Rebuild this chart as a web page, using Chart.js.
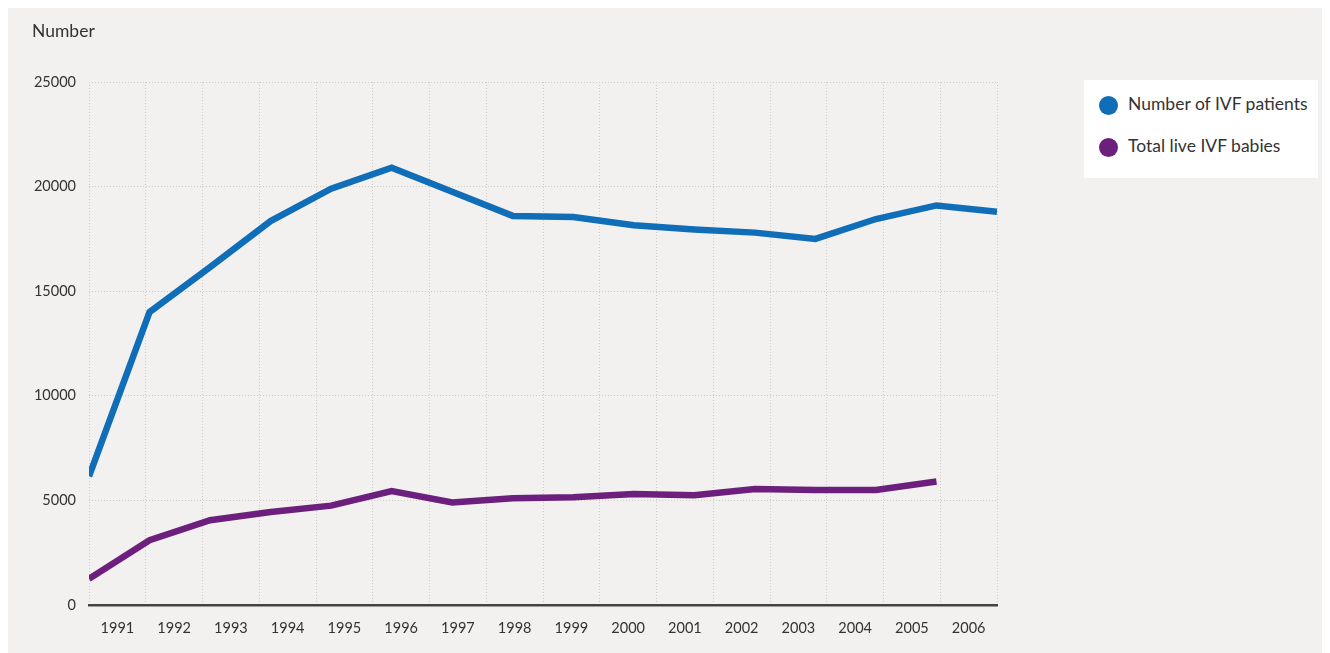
<!DOCTYPE html>
<html>
<head>
<meta charset="utf-8">
<script src="https://cdn.jsdelivr.net/npm/chart.js@4/dist/chart.umd.min.js"></script>
<style>
  html, body { margin: 0; padding: 0; background: #ffffff; }
  #wrap { position: relative; width: 1330px; height: 653px; overflow: hidden; }
  #bg { position: absolute; left: 8px; top: 8px; width: 1314px; height: 645px; background: #f2f1ef; }
  #c { position: absolute; left: 0; top: 0; }
  #ytitle { position: absolute; left: 32px; top: 20px; font-family: Lato, "Open Sans", sans-serif; font-size: 17.5px; color: #333; }
  #legend { position: absolute; left: 1084px; top: 80px; width: 234px; height: 98px; background: #ffffff;
            font-family: Lato, "Open Sans", sans-serif; font-size: 17.5px; color: #333; }
  .item { position: absolute; left: 15px; height: 20px; line-height: 20px; white-space: nowrap; }
  .dot { display: inline-block; width: 19px; height: 19px; border-radius: 50%; vertical-align: middle; margin-right: 10px; }
</style>
</head>
<body>
<div id="wrap">
  <div id="bg"></div>
  <canvas id="c" width="1330" height="653"></canvas>
  <div id="ytitle">Number</div>
  <div id="legend"></div>
</div>
<script>
const years = ['1991','1992','1993','1994','1995','1996','1997','1998','1999','2000','2001','2002','2003','2004','2005','2006'];
const ivfPatients = [6150, 14000, 16150, 18350, 19900, 20900, 19750, 18600, 18550, 18150, 17950, 17800, 17500, 18450, 19100, 18800];
const liveBabies = [1250, 3100, 4050, 4450, 4750, 5450, 4900, 5100, 5150, 5300, 5250, 5550, 5500, 5500, 5900, null];
const seriesNames = ['Number of IVF patients', 'Total live IVF babies'];
const seriesColors = ['#106db8', '#6c1f7d'];
const yTicks = [0, 5000, 10000, 15000, 20000, 25000];

const toPoints = arr => arr.map((v, i) => ({ x: i, y: v }));

const legend = document.getElementById('legend');
seriesNames.forEach((n, i) => {
  const d = document.createElement('div');
  d.className = 'item';
  d.style.top = (14 + i * 42) + 'px';
  d.innerHTML = '<span class="dot" style="background:' + seriesColors[i] + '"></span>' + n;
  legend.appendChild(d);
});

const gridColor = '#cfcbc5';
const tickFont = { family: 'Lato, "Open Sans", sans-serif', size: 14.5 };
new Chart(document.getElementById('c'), {
  type: 'line',
  data: {
    labels: years,
    datasets: [
      { label: seriesNames[0], data: toPoints(ivfPatients), xAxisID: 'x2', yAxisID: 'y',
        borderColor: seriesColors[0], backgroundColor: seriesColors[0], borderWidth: 6.5,
        pointRadius: 0, tension: 0, fill: false },
      { label: seriesNames[1], data: toPoints(liveBabies), xAxisID: 'x2', yAxisID: 'y',
        borderColor: seriesColors[1], backgroundColor: seriesColors[1], borderWidth: 6.5,
        pointRadius: 0, tension: 0, fill: false, spanGaps: false }
    ]
  },
  options: {
    responsive: false,
    animation: false,
    devicePixelRatio: 1,
    layout: { padding: { left: 0, right: 333, top: 82, bottom: 8 } },
    plugins: { legend: { display: false }, tooltip: { enabled: false }, title: { display: false } },
    scales: {
      x: {
        type: 'category',
        position: 'bottom',
        offset: true,
        grid: { display: true, offset: true, color: gridColor, lineWidth: 1, drawTicks: false },
        border: { display: true, color: '#444444', width: 2.5, dash: [1, 2] },
        ticks: { color: '#333', font: tickFont, padding: 15, maxRotation: 0, autoSkip: false },
        afterFit: s => { s.height = 40; }
      },
      x2: {
        type: 'linear',
        position: 'bottom',
        min: 0, max: 15,
        display: false
      },
      y: {
        type: 'linear',
        min: 0, max: 25000,
        afterBuildTicks: s => { s.ticks = yTicks.map(v => ({ value: v })); },
        grid: { color: gridColor, lineWidth: 1, drawTicks: false },
        border: { display: false, dash: [1, 2] },
        ticks: { color: '#333', font: tickFont, padding: 13, callback: v => String(v) },
        afterFit: s => { s.width = 89; }
      }
    }
  }
});
</script>
</body>
</html>
